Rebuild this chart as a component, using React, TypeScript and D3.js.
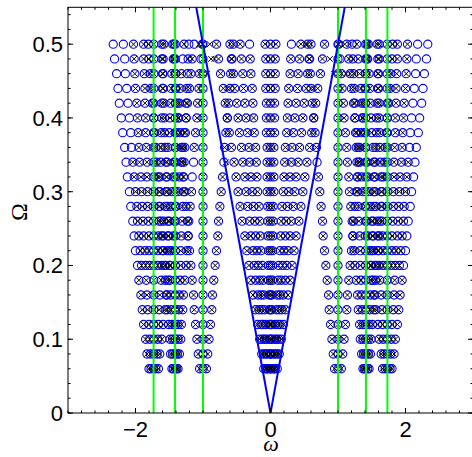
import React from 'react';
import * as d3 from 'd3';

// Rows of rotation rate Omega (top to bottom)
const OMEGA_ROWS = [0.5, 0.48, 0.46, 0.44, 0.42, 0.4, 0.38, 0.36, 0.34, 0.32, 0.3, 0.28, 0.26, 0.24, 0.22, 0.2, 0.18, 0.16, 0.14, 0.12, 0.1, 0.08, 0.06];

// Frequencies omega found in each row. Prefix: o = circle only, x = cross only, none = circle + cross
const ROW_POINTS = [
  'o-2.33 o-2.18 -2.03 -1.88 -1.73 -1.58 o-1.43 -1.28 o-1.13 -1.81 -1.61 -1.41 o-1.21 -1.01 -1.45 -1.00 -0.55 x-0.90 x-1.06 -0.80 -0.60 -0.45 o-0.31 -0.08 0 0.08 o0.31 0.45 0.60 0.80 x0.53 0.55 1.00 1.45 1.01 o1.21 1.41 1.61 1.81 o1.13 1.28 1.43 1.58 1.73 1.88 2.03 o2.18 o2.33 x1.10 x1.17',
  'o-2.31 o-2.16 -2.02 -1.88 -1.73 -1.59 -1.44 o-1.30 -1.16 -1.80 -1.61 -1.41 -1.22 o-1.03 -1.43 -1.00 -0.57 x-0.88 x-0.83 -0.77 -0.58 -0.43 -0.30 -0.07 0 0.07 0.30 0.43 0.58 0.77 0.57 x0.88 1.00 1.43 o1.03 1.22 1.41 1.61 1.80 1.16 1.30 1.44 1.59 1.73 1.88 2.02 o2.16 o2.31',
  'o-2.28 o-2.15 -2.01 -1.87 -1.73 -1.59 -1.46 -1.32 -1.18 -1.78 -1.60 -1.41 o-1.23 -1.05 -1.41 -1.00 -0.59 x-0.94 -0.74 -0.55 -0.41 -0.29 -0.07 0 0.07 0.29 0.41 0.55 0.74 0.59 1.00 1.41 1.05 1.23 1.41 1.60 1.78 1.18 1.32 1.46 1.59 1.73 1.87 2.01 o2.15 o2.28 x0.94 x1.12',
  'o-2.26 o-2.13 -2.00 -1.86 -1.73 -1.60 -1.47 -1.34 -1.20 -1.77 -1.59 -1.41 -1.24 -1.06 -1.40 -1.00 -0.60 -0.70 -0.53 -0.40 -0.27 -0.07 0 0.07 0.27 0.40 0.53 0.70 x-0.64 x0.64 0.60 1.00 1.40 1.06 1.24 1.41 1.59 1.77 1.20 1.34 1.47 1.60 1.73 1.86 2.00 o2.13 o2.26',
  'o-2.24 o-2.11 -1.98 -1.86 -1.73 -1.61 -1.48 -1.35 -1.23 -1.75 -1.58 -1.41 -1.25 -1.08 -1.38 -1.00 -0.62 -0.67 -0.50 -0.38 -0.26 -0.06 0 0.06 0.26 0.38 0.50 0.67 0.62 1.00 1.38 1.08 1.25 1.41 1.58 1.75 1.23 1.35 1.48 1.61 1.73 1.86 1.98 o2.11 o2.24',
  'o-2.21 o-2.09 -1.97 -1.85 -1.73 -1.61 -1.49 -1.37 -1.25 -1.73 -1.57 -1.41 -1.25 -1.09 -1.36 -1.00 -0.64 -0.64 -0.48 -0.36 -0.25 -0.06 0 0.06 0.25 0.36 0.48 0.64 0.64 1.00 1.36 1.09 1.25 1.41 1.57 1.73 1.25 1.37 1.49 1.61 1.73 1.85 1.97 o2.09 o2.21',
  'o-2.19 o-2.07 -1.96 -1.85 -1.73 -1.62 -1.50 -1.39 -1.28 -1.72 -1.57 -1.41 -1.26 -1.11 -1.34 -1.00 -0.66 -0.61 -0.46 -0.34 -0.24 -0.06 0 0.06 0.24 0.34 0.46 0.61 0.66 1.00 1.34 1.11 1.26 1.41 1.57 1.72 1.28 1.39 1.50 1.62 1.73 1.85 1.96 o2.07 o2.19',
  'o-2.16 o-2.06 -1.95 -1.84 -1.73 -1.62 -1.52 -1.41 -1.30 -1.70 -1.56 -1.41 -1.27 -1.13 -1.32 -1.00 -0.68 -0.58 -0.43 -0.32 -0.22 -0.05 0 0.05 0.22 0.32 0.43 0.58 0.68 1.00 1.32 1.13 1.27 1.41 1.56 1.70 1.30 1.41 1.52 1.62 1.73 1.84 1.95 o2.06 o2.16',
  'o-2.14 -2.04 -1.94 -1.83 -1.73 -1.63 -1.53 -1.43 -1.32 -1.69 -1.55 -1.41 -1.28 o-1.14 -1.31 -1.00 o-0.69 x-0.66 -0.54 -0.41 -0.31 -0.21 -0.05 0 0.05 0.21 0.31 0.41 0.54 o0.69 1.00 1.31 1.14 1.28 1.41 1.55 1.69 1.32 1.43 1.53 1.63 1.73 1.83 1.94 2.04 o2.14',
  'o-2.12 -2.02 -1.92 -1.83 -1.73 -1.64 -1.54 -1.44 -1.35 -1.67 -1.54 -1.41 -1.29 o-1.16 -1.29 -1.00 -0.71 -0.51 -0.38 -0.29 -0.20 -0.05 0 0.05 0.20 0.29 0.38 0.51 0.71 1.00 1.29 1.16 1.29 1.41 1.54 1.67 1.35 1.44 1.54 1.64 1.73 1.83 1.92 2.02 o2.12',
  'o-2.09 -2.00 -1.91 -1.82 -1.73 -1.64 -1.55 -1.46 -1.37 -1.65 -1.53 -1.41 -1.29 -1.17 -1.27 -1.00 -0.73 -0.48 -0.36 -0.27 -0.19 -0.05 0 0.05 0.19 0.27 0.36 0.48 0.73 1.00 1.27 1.17 1.29 1.41 1.53 1.65 1.37 1.46 1.55 1.64 1.73 1.82 1.91 2.00 o2.09',
  'o-2.07 -1.98 -1.90 -1.82 -1.73 -1.65 -1.56 -1.48 -1.40 -1.64 -1.53 -1.41 -1.30 -1.19 -1.25 -1.00 -0.75 -0.45 -0.34 -0.25 -0.17 -0.04 0 0.04 0.17 0.25 0.34 0.45 0.75 1.00 1.25 1.19 1.30 1.41 1.53 1.64 1.40 1.48 1.56 1.65 1.73 1.82 1.90 1.98 o2.07',
  'o-2.04 -1.97 -1.89 -1.81 -1.73 -1.65 -1.58 -1.50 -1.42 -1.62 -1.52 -1.41 -1.31 -1.21 -1.23 -1.00 -0.77 -0.42 -0.31 -0.23 -0.16 -0.04 0 0.04 0.16 0.23 0.31 0.42 0.77 1.00 1.23 1.21 1.31 1.41 1.52 1.62 1.42 1.50 1.58 1.65 1.73 1.81 1.89 1.97 o2.04',
  'o-2.02 -1.95 -1.88 -1.80 -1.73 -1.66 -1.59 -1.52 -1.44 -1.61 -1.51 -1.41 -1.32 -1.22 -1.22 -1.00 -0.78 -0.38 -0.29 -0.22 -0.15 -0.04 0 0.04 0.15 0.22 0.29 0.38 0.78 1.00 1.22 1.22 1.32 1.41 1.51 1.61 1.44 1.52 1.59 1.66 1.73 1.80 1.88 1.95 o2.02',
  'o-2.00 -1.93 -1.86 -1.80 -1.73 -1.67 -1.60 -1.53 -1.47 -1.59 -1.50 -1.41 -1.33 -1.24 -1.20 -1.00 -0.80 -0.35 -0.26 -0.20 -0.14 -0.03 0 0.03 0.14 0.20 0.26 0.35 0.80 1.00 1.20 1.24 1.33 1.41 1.50 1.59 1.47 1.53 1.60 1.67 1.73 1.80 1.86 1.93 o2.00',
  'o-1.97 -1.91 -1.85 -1.79 -1.73 -1.67 -1.61 -1.55 -1.49 -1.57 -1.49 -1.41 -1.33 -1.25 -1.18 -1.00 -0.82 -0.32 -0.24 -0.18 -0.12 -0.03 0 0.03 0.12 0.18 0.24 0.32 0.82 1.00 1.18 1.25 1.33 1.41 1.49 1.57 1.49 1.55 1.61 1.67 1.73 1.79 1.85 1.91 o1.97',
  '-1.95 -1.84 -1.73 -1.62 -1.52 -1.56 -1.49 -1.41 -1.34 -1.27 -1.16 -1.00 -0.84 -0.29 -0.22 -0.16 -0.11 -0.03 0 0.03 0.11 0.16 0.22 0.29 0.84 1.00 1.16 1.27 1.34 1.41 1.49 1.56 1.52 1.62 1.73 1.84 1.95',
  '-1.92 -1.83 -1.73 -1.64 -1.54 -1.54 -1.48 -1.41 -1.35 -1.29 -1.14 -1.00 -0.86 -0.26 -0.19 -0.14 -0.10 -0.02 0 0.02 0.10 0.14 0.19 0.26 0.86 1.00 1.14 1.29 1.35 1.41 1.48 1.54 1.54 1.64 1.73 1.83 1.92',
  '-1.90 -1.82 -1.73 -1.65 -1.56 -1.53 -1.47 -1.41 -1.36 -1.30 -1.13 -1.00 -0.87 -0.22 -0.17 -0.13 -0.09 -0.02 0 0.02 0.09 0.13 0.17 0.22 0.87 1.00 1.13 1.30 1.36 1.41 1.47 1.53 1.56 1.65 1.73 1.82 1.90',
  '-1.88 -1.80 -1.73 -1.66 -1.59 -1.51 -1.46 -1.41 -1.37 -1.32 -1.11 -1.00 -0.89 -0.19 -0.14 -0.11 -0.07 -0.02 0 0.02 0.07 0.11 0.14 0.19 0.89 1.00 1.11 1.32 1.37 1.41 1.46 1.51 1.59 1.66 1.73 1.80 1.88',
  '-1.85 -1.79 -1.73 -1.67 -1.61 -1.49 -1.45 -1.41 -1.37 -1.33 -1.09 -1.00 -0.91 -0.16 -0.12 -0.09 -0.06 -0.02 0 0.02 0.06 0.09 0.12 0.16 0.91 1.00 1.09 1.33 1.37 1.41 1.45 1.49 1.61 1.67 1.73 1.79 1.85',
  '-1.83 -1.78 -1.73 -1.68 -1.64 -1.48 -1.45 -1.41 -1.38 -1.35 -1.07 -1.00 -0.93 -0.13 -0.10 -0.07 -0.05 -0.01 0 0.01 0.05 0.07 0.10 0.13 0.93 1.00 1.07 1.35 1.38 1.41 1.45 1.48 1.64 1.68 1.73 1.78 1.83',
  '-1.80 -1.77 -1.73 -1.70 -1.66 -1.46 -1.44 -1.41 -1.39 -1.37 -1.05 -1.00 -0.95 -0.10 -0.07 -0.05 -0.04 -0.01 0 0.01 0.04 0.05 0.07 0.10 0.95 1.00 1.05 1.37 1.39 1.41 1.44 1.46 1.66 1.70 1.73 1.77 1.80',
];

const GREEN_LINES = [-1.732, -1.414, -1.0, 1.0, 1.414, 1.732];
const V_LEFT = [[0, 0], [-1.1, 0.55]];
const V_RIGHT = [[0, 0], [1.1, 0.55]];

const X_TICKS = [-2, 0, 2];
const X_TICK_LABELS = ['\u22122', '0', '2'];
const Y_TICKS = [0, 0.1, 0.2, 0.3, 0.4, 0.5];
const Y_TICK_LABELS = ['0', '0.1', '0.2', '0.3', '0.4', '0.5'];

const W = 472;
const H = 457;
const L = 68;
const R = 473;
const T = 7.3;
const B = 413;

type Pt = { w: number; o: number; kind: string };

export default function App() {
  const x = d3.scaleLinear().domain([-3, 3]).range([L, R]);
  const y = d3.scaleLinear().domain([0, 0.55]).range([B, T]);

  const pts: Pt[] = [];
  ROW_POINTS.forEach((row, i) => {
    row.trim().split(/\s+/).forEach((tok) => {
      let kind = 'b';
      let s = tok;
      if (s[0] === 'o' || s[0] === 'x') {
        kind = s[0];
        s = s.slice(1);
      }
      pts.push({ w: parseFloat(s), o: OMEGA_ROWS[i], kind });
    });
  });

  const line = d3.line<number[]>().x((d) => x(d[0])).y((d) => y(d[1]));
  const xMinor = d3.range(-3, 3.0001, 0.2);
  const yMinor = d3.range(0, 0.5501, 0.02);
  const font = 'Helvetica, Arial, "Liberation Sans", sans-serif';
  const serif = '"Liberation Serif", "Times New Roman", serif';

  return (
    <svg width={W} height={H} style={{ position: 'absolute', left: 0, top: 0, background: '#fff' }}>
      <defs>
        <clipPath id="plotclip">
          <rect x={L} y={T} width={R - L} height={B - T} />
        </clipPath>
      </defs>
      <rect x={0} y={0} width={W} height={H} fill="#fff" />
      <g clipPath="url(#plotclip)">
        {pts.filter((p) => p.kind !== 'x').map((p, i) => (
          <circle key={'c' + i} cx={x(p.w)} cy={y(p.o)} r={4.1} fill="none" stroke="#0000ff" strokeWidth={1.1} />
        ))}
        {pts.filter((p) => p.kind !== 'o').map((p, i) => (
          <path key={'x' + i} transform={`translate(${x(p.w)},${y(p.o)})`} d="M-2.8,-2.8L2.8,2.8M-2.8,2.8L2.8,-2.8" stroke="#000" strokeWidth={1} fill="none" />
        ))}
        {GREEN_LINES.map((g, i) => (
          <line key={'g' + i} x1={x(g)} x2={x(g)} y1={y(0)} y2={y(0.55)} stroke="#00ff00" strokeWidth={2} />
        ))}
        <path d={line(V_LEFT as number[][]) || ''} stroke="#0000ff" strokeWidth={2} fill="none" />
        <path d={line(V_RIGHT as number[][]) || ''} stroke="#0000ff" strokeWidth={2} fill="none" />
      </g>
      <rect x={L} y={T} width={R - L} height={B - T} fill="none" stroke="#000" strokeWidth={1} />
      {xMinor.map((v, i) => (
        <g key={'xm' + i}>
          <line x1={x(v)} x2={x(v)} y1={B} y2={B - 2.5} stroke="#000" strokeWidth={1} />
          <line x1={x(v)} x2={x(v)} y1={T} y2={T + 2.5} stroke="#000" strokeWidth={1} />
        </g>
      ))}
      {X_TICKS.map((v, i) => (
        <g key={'xt' + i}>
          <line x1={x(v)} x2={x(v)} y1={B} y2={B - 5} stroke="#000" strokeWidth={1} />
          <line x1={x(v)} x2={x(v)} y1={T} y2={T + 5} stroke="#000" strokeWidth={1} />
          <text x={x(v)} y={437} textAnchor="middle" fontFamily={font} fontSize={22} fill="#000">{X_TICK_LABELS[i]}</text>
        </g>
      ))}
      {yMinor.map((v, i) => (
        <g key={'ym' + i}>
          <line x1={L} x2={L + 2.5} y1={y(v)} y2={y(v)} stroke="#000" strokeWidth={1} />
          <line x1={R} x2={R - 2.5} y1={y(v)} y2={y(v)} stroke="#000" strokeWidth={1} />
        </g>
      ))}
      {Y_TICKS.map((v, i) => (
        <g key={'yt' + i}>
          <line x1={L} x2={L + 5} y1={y(v)} y2={y(v)} stroke="#000" strokeWidth={1} />
          <line x1={R} x2={R - 5} y1={y(v)} y2={y(v)} stroke="#000" strokeWidth={1} />
          <text x={63} y={y(v)} dy="0.36em" textAnchor="end" fontFamily={font} fontSize={22} fill="#000">{Y_TICK_LABELS[i]}</text>
        </g>
      ))}
      <text x={271} y={451} textAnchor="middle" fontFamily={serif} fontStyle="italic" fontSize={22} fill="#000">ω</text>
      <text transform="translate(27,212) rotate(-90)" textAnchor="middle" fontFamily={serif} fontSize={24} fill="#000">Ω</text>
    </svg>
  );
}
